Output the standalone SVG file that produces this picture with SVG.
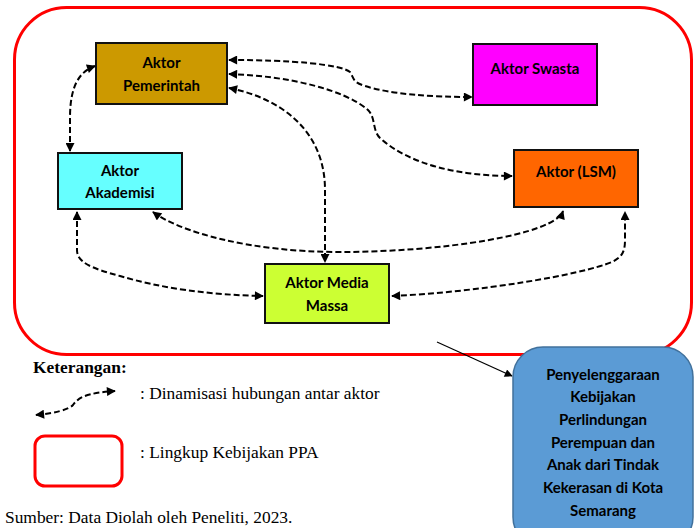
<svg xmlns="http://www.w3.org/2000/svg" width="697" height="528" viewBox="0 0 697 528">
<style>
.box{stroke:#111;stroke-width:2}
.lbl{font-family:Lato,"Liberation Sans",sans-serif;font-weight:bold;font-size:15px;fill:#000;text-anchor:middle}
.con{fill:none;stroke:#000;stroke-width:2;stroke-dasharray:6 3}
.leg{font-family:"Liberation Serif",serif;font-size:17.4px;fill:#000}
.scope{fill:none;stroke:#FF0000;stroke-width:3}
</style>
<defs>
<marker id="ah" markerUnits="userSpaceOnUse" viewBox="0 0 10 10" markerWidth="10" markerHeight="9" refX="9" refY="5" orient="auto-start-reverse">
<path d="M0,0 L10,5 L0,10 z" fill="#000"/>
</marker>
<marker id="ah2" markerUnits="userSpaceOnUse" viewBox="0 0 10 10" markerWidth="9" markerHeight="8" refX="9" refY="5" orient="auto">
<path d="M0,0 L10,5 L0,10 z" fill="#000"/>
</marker>
</defs>
<rect width="697" height="528" fill="#fff"/>
<rect id="scope" class="scope" x="14.5" y="7.5" width="677" height="347" rx="52"/>

<g id="pemerintah">
<rect class="box" x="96" y="43" width="131" height="61" fill="#CC9900"/>
<text class="lbl" x="161.5" y="68">Aktor</text>
<text class="lbl" x="161.5" y="91">Pemerintah</text>
</g>
<g id="swasta">
<rect class="box" x="473" y="44" width="124" height="61" fill="#FF00FF"/>
<text class="lbl" x="535" y="74">Aktor Swasta</text>
</g>
<g id="akademisi">
<rect class="box" x="58" y="153" width="124" height="56" fill="#66FFFF"/>
<text class="lbl" x="120" y="176">Aktor</text>
<text class="lbl" x="120" y="198">Akademisi</text>
</g>
<g id="lsm">
<rect class="box" x="514" y="150" width="124" height="57" fill="#FF6600"/>
<text class="lbl" x="576" y="177">Aktor (LSM)</text>
</g>
<g id="media">
<rect class="box" x="265" y="264" width="124" height="59" fill="#CCFF33"/>
<text class="lbl" x="327" y="288">Aktor Media</text>
<text class="lbl" x="327" y="311">Massa</text>
</g>

<g id="connectors">
<path class="con" d="M70,151 L70,118 C70,88 78,72 95,66" marker-start="url(#ah)" marker-end="url(#ah)"/>
<path class="con" d="M229,60 C290,60 340,64 350,72 C354,78 352,82 365,86 C390,94 430,97 472,97" marker-start="url(#ah)" marker-end="url(#ah)"/>
<path class="con" d="M229,74 C290,76 345,90 368,110 C376,118 372,130 380,138 C410,165 460,176 512,176" marker-start="url(#ah)" marker-end="url(#ah)"/>
<path class="con" d="M229,88 C280,98 325,130 325,190 L325,262" marker-start="url(#ah)" marker-end="url(#ah)"/>
<path class="con" d="M153,212 C180,232 250,252 340,252 C440,252 555,235 563,211" marker-start="url(#ah)" marker-end="url(#ah)"/>
<path class="con" d="M77,212 L77,250 C77,262 90,268 120,276 C160,288 210,295 263,296" marker-start="url(#ah)" marker-end="url(#ah)"/>
<path class="con" d="M392,296 C480,292 580,275 612,262 C622,257 625,252 625,240 L625,212" marker-start="url(#ah)" marker-end="url(#ah)"/>
<path d="M437,342 L512,376" fill="none" stroke="#000" stroke-width="1.2" marker-end="url(#ah2)"/>
</g>

<g id="kebijakan">
<rect x="513" y="347" width="180" height="200" rx="30" fill="#5B9BD5" stroke="#41719C" stroke-width="1.5"/>
<text class="lbl" x="603" y="380">Penyelenggaraan</text>
<text class="lbl" x="603" y="402">Kebijakan</text>
<text class="lbl" x="603" y="425">Perlindungan</text>
<text class="lbl" x="603" y="448">Perempuan dan</text>
<text class="lbl" x="603" y="470">Anak dari Tindak</text>
<text class="lbl" x="603" y="493">Kekerasan di Kota</text>
<text class="lbl" x="603" y="516">Semarang</text>
</g>

<g id="legend">
<text class="leg" x="33" y="373" font-weight="bold">Keterangan:</text>
<path class="con" d="M36,415 C55,413 68,410 73,405 C78,398 85,393 115,391" marker-start="url(#ah)" marker-end="url(#ah)"/>
<text class="leg" x="140" y="399">: Dinamisasi hubungan antar aktor</text>
<rect class="scope" x="35" y="436" width="87" height="50" rx="10"/>
<text class="leg" x="140" y="458">: Lingkup Kebijakan PPA</text>
<text class="leg" x="5" y="523" font-size="16">Sumber: Data Diolah oleh Peneliti, 2023.</text>
</g>
</svg>
